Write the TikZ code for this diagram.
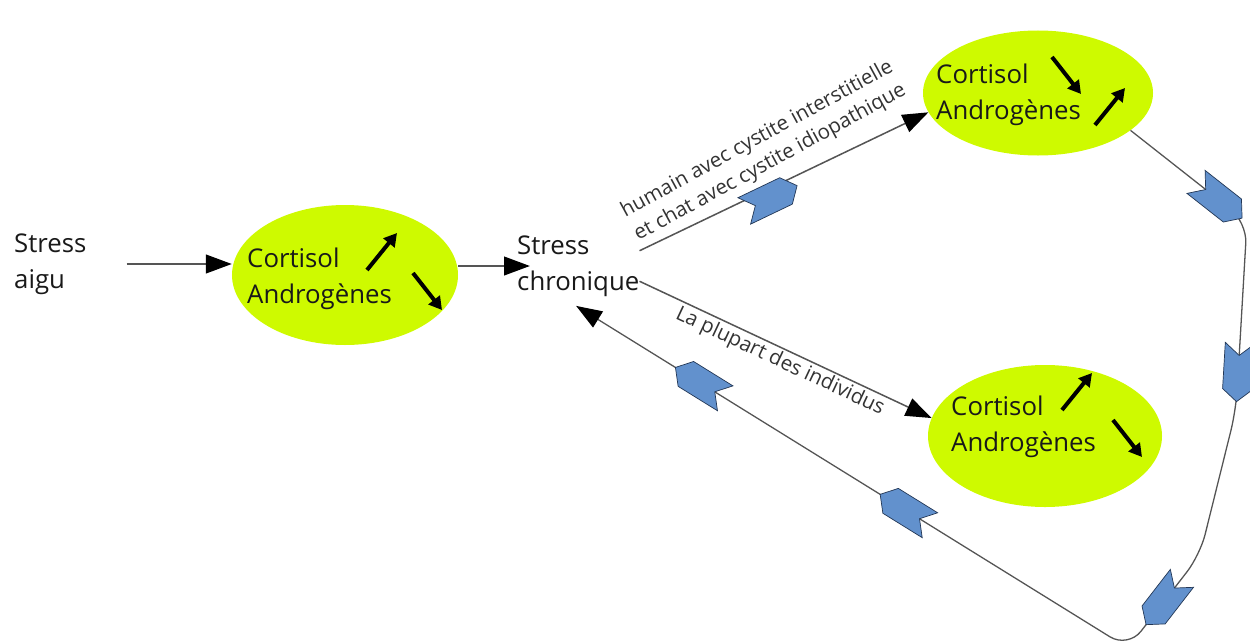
\documentclass[tikz,border=0pt]{standalone}
\usepackage{fontspec}
\setmainfont{Open Sans}
\usetikzlibrary{arrows.meta, shapes.geometric, shapes.symbols}
\usepackage{xcolor}
\definecolor{vertjaune}{RGB}{206,250,0}
\definecolor{bleuchevron}{RGB}{98,145,205}
\definecolor{bordchevron}{RGB}{35,55,85}
\definecolor{trait}{RGB}{85,85,85}

\begin{document}
\begin{tikzpicture}[
        x=0.03cm, y=-0.03cm,
        bulle/.style={ellipse, fill=vertjaune, inner sep=0pt},
        texte/.style={align=left, inner sep=0pt, font=\fontsize{22}{30.5}\selectfont, text=black!90},
        fleche/.style={draw=trait, line width=1.3pt, -{Triangle[length=22pt, width=16pt, color=black]}},
        chevron/.style={signal, signal from=west, signal to=east, signal pointer angle=100, fill=bleuchevron, draw=bordchevron, line width=0.6pt, sharp corners, minimum width=50pt, minimum height=25pt, inner sep=0pt, sloped, allow upside down},
        etiquette/.style={font=\fontsize{17.5}{23}\selectfont, text=black!80, align=center, inner sep=2pt},
        petite/.style={line width=3.4pt, -{Triangle[length=11pt, width=12pt]}},
        hausse/.pic={\draw[petite] (0,0) -- (30,-37);},
        baisse/.pic={\draw[petite] (0,0) -- (29,37);}
    ]
        \useasboundingbox (0,0) rectangle (1250,642);

        % Starting point
        \node[texte, anchor=west] (aigu) at (14,264) {Stress\\aigu};

        % Hormone bubbles
        \node[bulle, minimum width=6.78cm, minimum height=4.2cm] (e1) at (345,275) {};
        \node[bulle, minimum width=6.9cm, minimum height=3.75cm] (e2) at (1038,93) {};
        \node[bulle, minimum width=7.02cm, minimum height=4.26cm] (e3) at (1045,436) {};

        \node[texte, anchor=west] (t1) at (247,279) {Cortisol\\Androgènes};
        \node[texte, anchor=west] (t2) at (936,95) {Cortisol\\Androgènes};
        \node[texte, anchor=west] (t3) at (951,427) {Cortisol\\Androgènes};

        % Up / down markers
        \pic at (367,270) {hausse};
        \pic at (413,273) {baisse};
        \pic at (1052,57) {baisse};
        \pic at (1095,125) {hausse};
        \pic at (1062,410) {hausse};
        \pic at (1113,420) {baisse};

        % Chronic stress
        \node[texte, anchor=west] (chron) at (517,266) {Stress\\chronique};

        % Connections with labels
        \draw[fleche, shorten <=34pt] (aigu.east) -- (aigu.east -| e1.west);
        \draw[fleche, shorten >=-11pt] (e1.east |- chron.west) -- (chron.west);
        \draw[fleche] (chron.14) -- node[chevron, pos=0.44, yshift=-8pt] (c1) {}
            node[etiquette, sloped, above, pos=0.49, rotate=3, yshift=8pt] (l1) {humain avec cystite interstitielle\\et chat avec cystite idiopathique} (e2.190);
        \draw[fleche] (chron.-14) -- node[etiquette, sloped, below, pos=0.5] (l2) {La plupart des individus} (e3.171);

        % Way back
        \coordinate (k1) at (1247,222);
        \coordinate (k2) at (1236,410);
        \coordinate (k3) at (1200,555);
        \coordinate (k4) at (1128,648);
        \draw[fleche, line width=1.1pt, rounded corners=18pt] (e2.-22)
            -- node[chevron, pos=0.76] (c2) {} (k1)
            -- node[chevron, pos=0.8] (c3) {} (k2)
            -- (k3)
            -- node[chevron, pos=0.5] (c4) {} (k4)
            -- node[chevron, pos=0.404] (c5) {} node[chevron, pos=0.775] (c6) {} ([yshift=-8pt]chron.-94);

    \end{tikzpicture}
\end{document}
